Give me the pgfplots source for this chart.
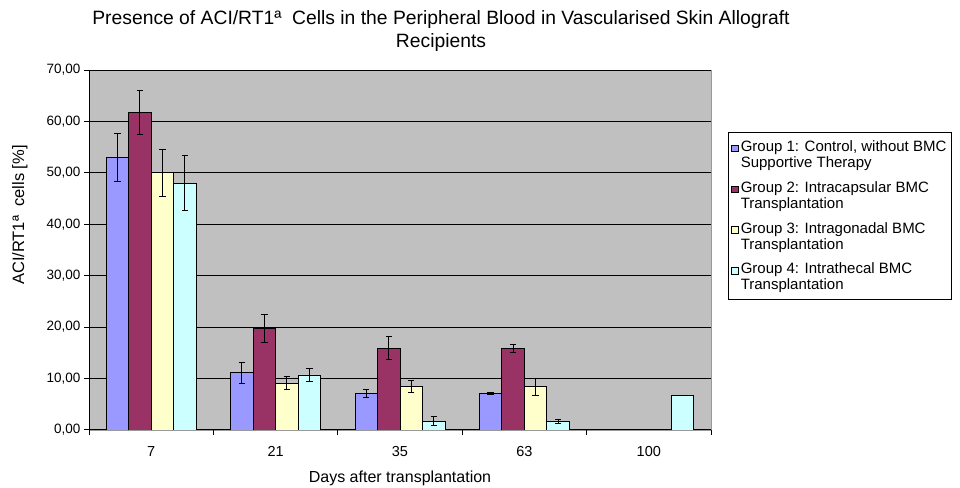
\documentclass[border=0pt]{standalone}
\usepackage{fontspec}
\setmainfont{Liberation Sans}
\usepackage{pgfplots}
\pgfplotsset{compat=1.18}
\definecolor{gOne}{HTML}{9999FF}
\definecolor{gTwo}{HTML}{993366}
\definecolor{gThree}{HTML}{FFFFCC}
\definecolor{gFour}{HTML}{CCFFFF}
\definecolor{plotbg}{HTML}{C0C0C0}
\begin{document}
\begin{tikzpicture}
\useasboundingbox (0bp,0bp) rectangle (960bp,488bp);
\node[font=\fontsize{19.3bp}{23bp}\selectfont, align=center] at (441bp,456.5bp) {Presence of ACI/RT1ª\ \ Cells in the Peripheral Blood in Vascularised Skin Allograft\\Recipients};
\begin{axis}[
  at={(89bp,58bp)}, anchor=south west,
  width=622bp, height=360bp, scale only axis,
  xmin=-0.5, xmax=4.5, ymin=0, ymax=70,
  ybar, bar width=22.5bp,
  axis background/.style={fill=plotbg, draw=gray!80},
  axis x line*=bottom, axis y line*=left,
  axis line style={black, line width=1bp, -},
  ytick={0,10,...,70},
  ymajorgrids, major grid style={black, line width=1bp},
  xtick={0,1,2,3,4}, xticklabels={7,21,35,63,100},
  minor xtick={-0.5,0.5,1.5,2.5,3.5,4.5},
  every major x tick/.append style={draw=none},
  tick align=outside, major tick length=5bp, minor tick length=5bp,
  tick style={black, line width=1bp},
  xticklabel style={font=\fontsize{14.5bp}{16bp}\selectfont, yshift=-8bp},
  yticklabel style={font=\fontsize{13.5bp}{15bp}\selectfont, /pgf/number format/.cd, fixed, fixed zerofill, precision=2, use comma, assume math mode=true},
  xlabel={Days after transplantation},
  x label style={at={(axis description cs:0.5,-0.1333)}, anchor=center, font=\fontsize{16bp}{18bp}\selectfont},
  ylabel={ACI/RT1ª\ \ cells [\%]},
  y label style={at={(axis description cs:-0.111,0.597)}, anchor=center, font=\fontsize{16.5bp}{18bp}\selectfont},
  error bars/error bar style={black, line width=1bp},
  error bars/error mark options={rotate=90, mark size=3.2bp, black, line width=1bp},
  legend style={at={(1.0273,0.8278)}, anchor=north west, draw=black, line width=1bp, fill=white,
    font=\fontsize{15bp}{16bp}\selectfont, row sep=8.5bp, inner xsep=3bp, inner ysep=6bp,
    cells={anchor=west, align=left}},
  legend cell align=left,
  legend image code/.code={\draw[#1, line width=0.8bp] (0bp,3bp) rectangle (6.5bp,9.5bp);},
]
\addplot[fill=gOne, draw=black, line width=0.9bp, bar shift=-33.75bp, error bars/.cd, y dir=both, y explicit]
  coordinates {(0,53.0) +- (0,4.6) (1,11.1) +- (0,2.0) (2,7.1) +- (0,0.85) (3,7.1) +- (0,0.2)};
\addlegendentry{Group 1: Control, without BMC\\Supportive Therapy}
\addplot[fill=gTwo, draw=black, line width=0.9bp, bar shift=-11.25bp, error bars/.cd, y dir=both, y explicit]
  coordinates {(0,61.7) +- (0,4.3) (1,19.8) +- (0,2.75) (2,15.9) +- (0,2.25) (3,15.9) +- (0,0.8)};
\addlegendentry{Group 2: Intracapsular BMC\\Transplantation}
\addplot[fill=gThree, draw=black, line width=0.9bp, bar shift=11.25bp, error bars/.cd, y dir=both, y explicit]
  coordinates {(0,50.0) +- (0,4.5) (1,9.1) +- (0,1.3) (2,8.4) +- (0,1.2) (3,8.4) +- (0,1.6)};
\addlegendentry{Group 3: Intragonadal BMC\\Transplantation}
\addplot[fill=gFour, draw=black, line width=0.9bp, bar shift=33.75bp, error bars/.cd, y dir=both, y explicit]
  coordinates {(0,48.0) +- (0,5.3) (1,10.7) +- (0,1.35) (2,1.7) +- (0,0.85) (3,1.7) +- (0,0.35)};
\addlegendentry{Group 4: Intrathecal BMC\\Transplantation}
\addplot[forget plot, fill=gFour, draw=black, line width=0.9bp, bar shift=33.75bp]
  coordinates {(4,6.7)};
\end{axis}
\end{tikzpicture}
\end{document}
